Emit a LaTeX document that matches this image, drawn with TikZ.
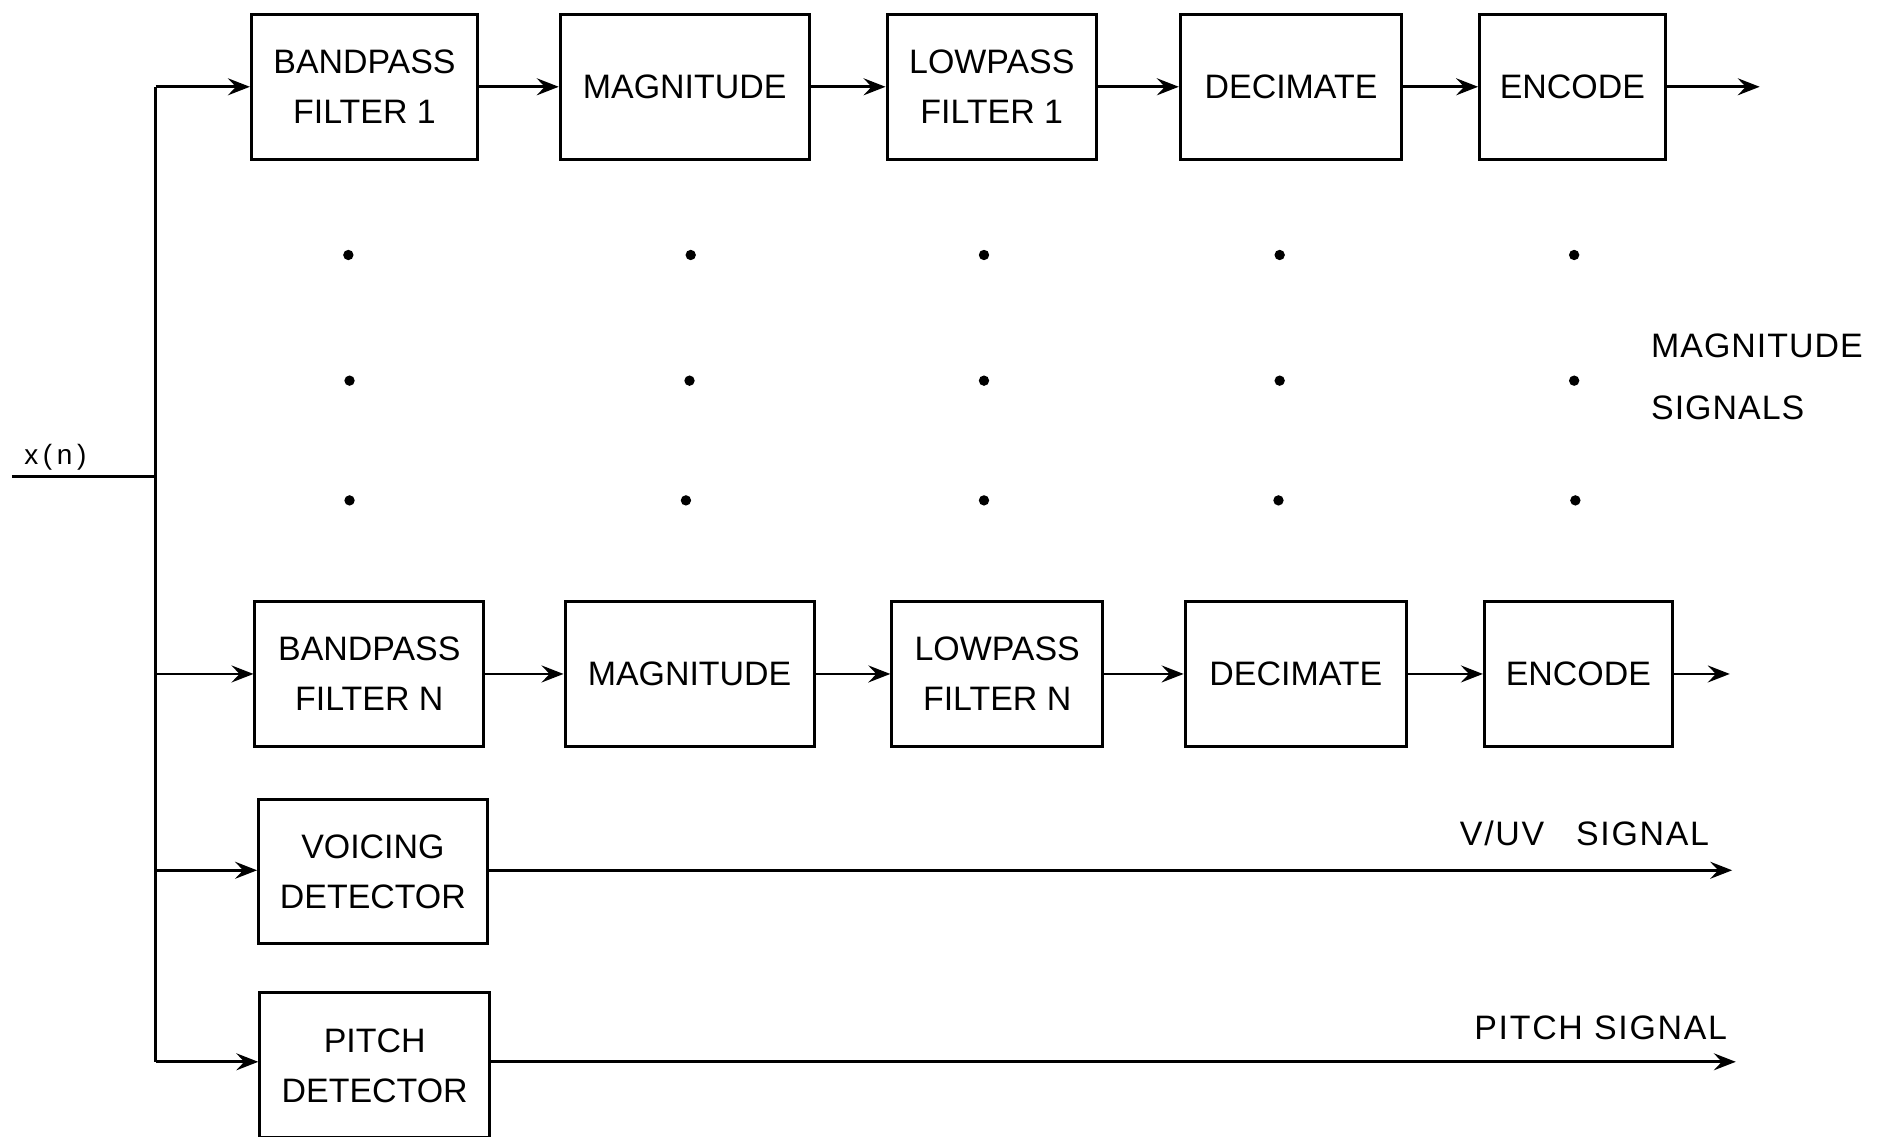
\documentclass[tikz,border=0pt]{standalone}
\usepackage{fontspec}
\setmainfont{Liberation Sans}
\usetikzlibrary{arrows.meta}
\begin{document}
\begin{tikzpicture}[x=0.6pt,y=-0.6pt,
  blk/.style={draw, line width=1.5pt, minimum width=#1*0.6pt, minimum height=72.6pt,
    inner sep=0pt, align=center, font=\fontsize{17}{25}\selectfont},
  wire/.style={line width=1.4pt},
  sig/.style={line width=1.4pt, -{Stealth[length=11pt,width=8.5pt,inset=4pt]}},
  lbl/.style={inner sep=0pt, font=\fontsize{17}{31}\selectfont}
]
\useasboundingbox (0,0) rectangle (1568,949);

% channel 1
\node[blk=189] (bp1)  at (304.5,72.5)  {BANDPASS\\FILTER 1};
\node[blk=208] (mag1) at (572,72.5)    {MAGNITUDE};
\node[blk=175] (lp1)  at (828.5,72.5)  {LOWPASS\\FILTER 1};
\node[blk=185] (dec1) at (1078.5,72.5) {DECIMATE};
\node[blk=155] (enc1) at (1313.5,72.5) {ENCODE};

% channel N
\node[blk=191] (bpN)  at (308.5,563)  {BANDPASS\\FILTER N};
\node[blk=208] (magN) at (576,563)    {MAGNITUDE};
\node[blk=176] (lpN)  at (833,563)    {LOWPASS\\FILTER N};
\node[blk=185] (decN) at (1082.5,563) {DECIMATE};
\node[blk=157] (encN) at (1318.5,563) {ENCODE};

% detectors
\node[blk=191] (voi) at (311.5,728) {VOICING\\DETECTOR};
\node[blk=192] (pit) at (313,890)   {PITCH\\DETECTOR};

% input and distribution bus
\coordinate (in)  at (10,398);
\coordinate (tap) at (130,398);
\coordinate (b1)  at (130,72.5);
\coordinate (bN)  at (130,563);
\coordinate (bV)  at (130,727);
\coordinate (bP)  at (130,887);
\draw[wire] (in) -- (tap);
\draw[wire] (b1) -- (bP);
\node[anchor=base west, inner sep=0pt, font=\fontsize{14}{14}\selectfont] (xn) at (20,388) {x\,(\,n\,)};

\draw[sig] (b1) -- (bp1.west);
\draw[sig] (bN) -- (bpN.west);
\draw[sig] (bV) -- (bV -| voi.west);
\draw[sig] (bP) -- (bP -| pit.west);

% channel 1 chain
\draw[sig] (bp1) -- (mag1);
\draw[sig] (mag1) -- (lp1);
\draw[sig] (lp1) -- (dec1);
\draw[sig] (dec1) -- (enc1);
\coordinate (o1) at (1470,72.5);
\draw[sig] (enc1) -- (o1);

% channel N chain
\draw[sig] (bpN) -- (magN);
\draw[sig] (magN) -- (lpN);
\draw[sig] (lpN) -- (decN);
\draw[sig] (decN) -- (encN);
\coordinate (oN) at (1445,563);
\draw[sig] (encN) -- (oN);

% detector outputs
\coordinate (oV) at (1447,727);
\coordinate (oP) at (1450,887);
\draw[sig] (voi.east |- oV) -- (oV);
\draw[sig] (pit.east |- oP) -- (oP);

% continuation dots between the channels
\foreach \x/\y in {291/213, 577/213, 822/213, 1069/213, 1315/213,
                   292/318, 576/318, 822/318, 1069/318, 1315/318,
                   292/418, 573/418, 822/418, 1068/418, 1316/418}
  \fill (\x,\y) circle (2.6pt);

% output labels
\node[lbl, anchor=west, align=left] (ms) at (1379,315)
  {\addfontfeatures{LetterSpace=3}MAGNITUDE\\\addfontfeatures{LetterSpace=3}SIGNALS};
\node[lbl, anchor=base east] (vl) at (1428,706)
  {\addfontfeatures{LetterSpace=5}V/UV\hspace{16pt}SIGNAL};
\node[lbl, anchor=base east] (pl) at (1443,868)
  {\addfontfeatures{LetterSpace=5}PITCH SIGNAL};
\end{tikzpicture}
\end{document}
